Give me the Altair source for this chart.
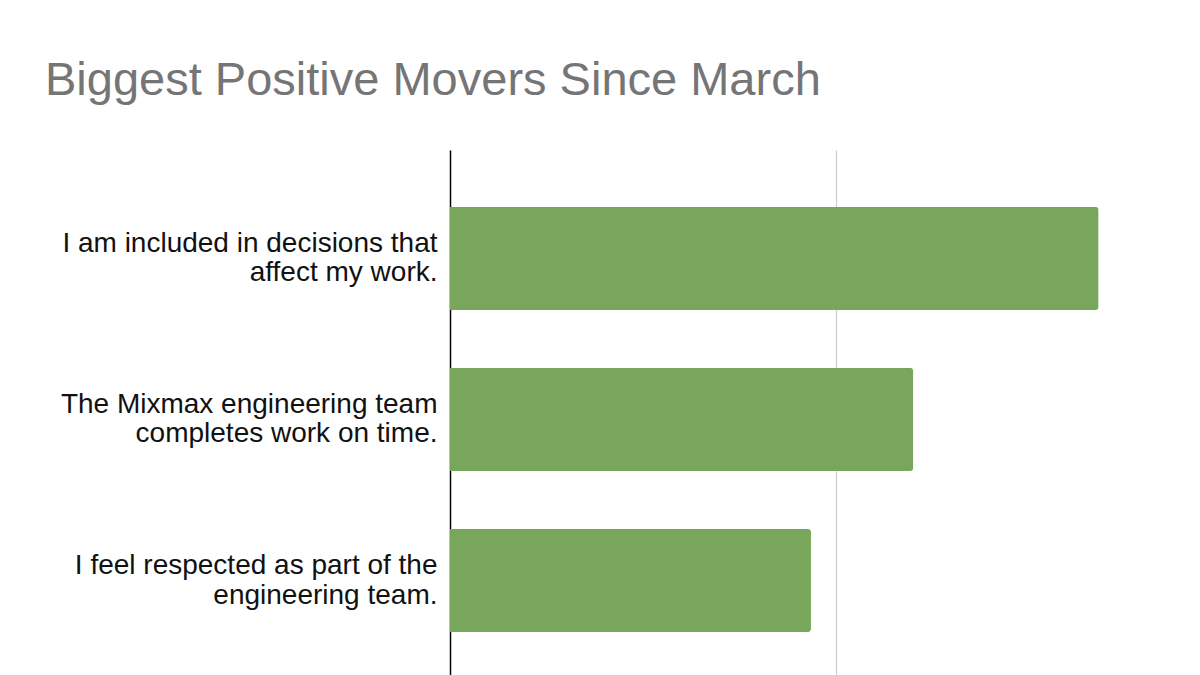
import altair as alt
import pandas as pd

statements = [
    "I am included in decisions that|affect my work.",
    "The Mixmax engineering team|completes work on time.",
    "I feel respected as part of the|engineering team.",
]
change = [1.68, 1.20, 0.935]

df = pd.DataFrame({"statement": statements, "change": change})

FONT = "Liberation Sans, Arial, sans-serif"

chart = alt.Chart(df).mark_bar(
    color="#78a65a", cornerRadiusTopRight=3, cornerRadiusBottomRight=3
).encode(
    x=alt.X(
        "change:Q",
        scale=alt.Scale(domain=[0, 1.922], nice=False, zero=True),
        axis=alt.Axis(
            values=[1], labels=False, ticks=False, domain=False, title=None,
            grid=True, gridColor="#cccccc", gridWidth=1.2,
        ),
    ),
    y=alt.Y(
        "statement:N",
        sort=statements,
        scale=alt.Scale(paddingInner=0.36, paddingOuter=0.31, align=0.57),
        axis=alt.Axis(
            title=None, ticks=False, domain=True, domainColor="#000000", domainWidth=1.5,
            labelExpr="split(datum.label, '|')", labelFont=FONT, labelFontSize=28,
            labelColor="#111111", labelPadding=13, labelLimit=500, labelLineHeight=29.5,
            labelAlign="right", labelBaseline="middle", labelOffset=-14.5,
        ),
    ),
).properties(
    width=742,
    height=525,
    autosize=alt.AutoSizeParams(type="none"),
    padding={"left": 442, "top": 142, "right": 0, "bottom": 0},
    title=alt.TitleParams(
        "Biggest Positive Movers Since March",
        anchor="start", frame="group", dx=-405, offset=45,
        font=FONT, fontSize=47, fontWeight="normal", color="#757575",
    ),
).configure_view(stroke=None)

chart.save("out.html", embed_options={"renderer": "svg", "actions": False})
